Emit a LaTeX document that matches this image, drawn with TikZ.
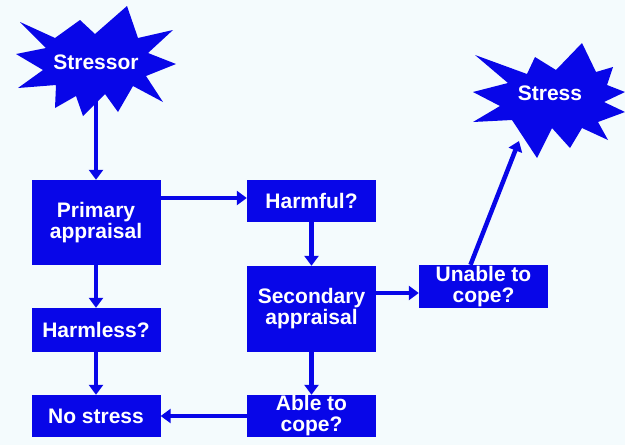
\documentclass[tikz,border=0pt]{standalone}
\usepackage{fontspec}
\setmainfont{Liberation Sans}
\usetikzlibrary{arrows.meta,positioning}
\definecolor{boxblue}{RGB}{8,6,232}
\definecolor{paper}{RGB}{244,251,253}
\tikzstyle{stepbox}=[fill=boxblue, text=white, font=\bfseries\fontsize{21}{21}\selectfont, align=center, minimum width=129pt, inner sep=0pt]
\tikzstyle{burst}=[text=white, font=\bfseries\fontsize{21}{21}\selectfont, inner sep=1pt]
\tikzstyle{flow}=[draw=boxblue, line width=4.5pt, -{Triangle[length=10pt,width=14pt]}]

\begin{document}
\begin{tikzpicture}[x=1pt,y=-1pt]
    % background
    \fill[paper] (0,0) rectangle (625,445);
    \useasboundingbox (0,0) rectangle (625,445);

    % star bursts
    \fill[boxblue] (20,22) -- (55,38) -- (80,20) -- (95,34) -- (127,6) -- (138,38)
        -- (173,30) -- (148,53) -- (176,64) -- (146,76) -- (163,102) -- (133,86)
        -- (118,112) -- (105,94) -- (83,116) -- (76,96) -- (55,108) -- (56,85)
        -- (18,88) -- (43,70) -- (16,54) -- (46,48) -- cycle;
    \fill[boxblue] (475,55) -- (508,83) -- (473,92) -- (500,106) -- (473,122) -- (512,120)
        -- (537,158) -- (552,128) -- (570,148) -- (582,128) -- (608,140) -- (598,122)
        -- (625,112) -- (604,102) -- (625,92) -- (607,85) -- (613,67) -- (596,72)
        -- (582,43) -- (556,70) -- (535,57) -- (527,74) -- cycle;
    \node[burst] (stressor) at (96,62) {Stressor};
    \node[burst] (stress) at (550,93) {Stress};
    \coordinate (stresshit) at (519,141);

    % boxes
    \node[stepbox, minimum height=85pt] (prim) at (96,222.5) {Primary\\appraisal};
    \node[stepbox, minimum height=44pt] (harmless) at (96,330) {Harmless?};
    \node[stepbox, minimum height=42pt] (nostress) at (96,416) {No stress};
    \node[stepbox, minimum height=42pt] (harmful) at (311.5,201) {Harmful?};
    \node[stepbox, minimum height=86pt] (second) at (311.5,309) {Secondary\\appraisal};
    \node[stepbox, minimum height=42pt] (able) at (311.5,416) {Able to\\cope?};
    \node[stepbox, minimum height=43pt] (unable) at (483.5,286.5) {Unable to\\cope?};

    % arrows
    \draw[flow] (stressor) -- (prim);
    \draw[flow] ([yshift=24.5pt]prim.east) -- (harmful.west |- {(0,198)});
    \draw[flow] (prim) -- (harmless);
    \draw[flow] (harmless) -- (nostress);
    \draw[flow] (harmful) -- (second);
    \draw[flow] (second) -- (able);
    \draw[flow] (able) -- (nostress);
    \draw[flow] ([yshift=16pt]second.east) -- (unable.west |- {(0,293)});
    \draw[flow] ([xshift=-13pt]unable.north) -- (stresshit);
\end{tikzpicture}
\end{document}
